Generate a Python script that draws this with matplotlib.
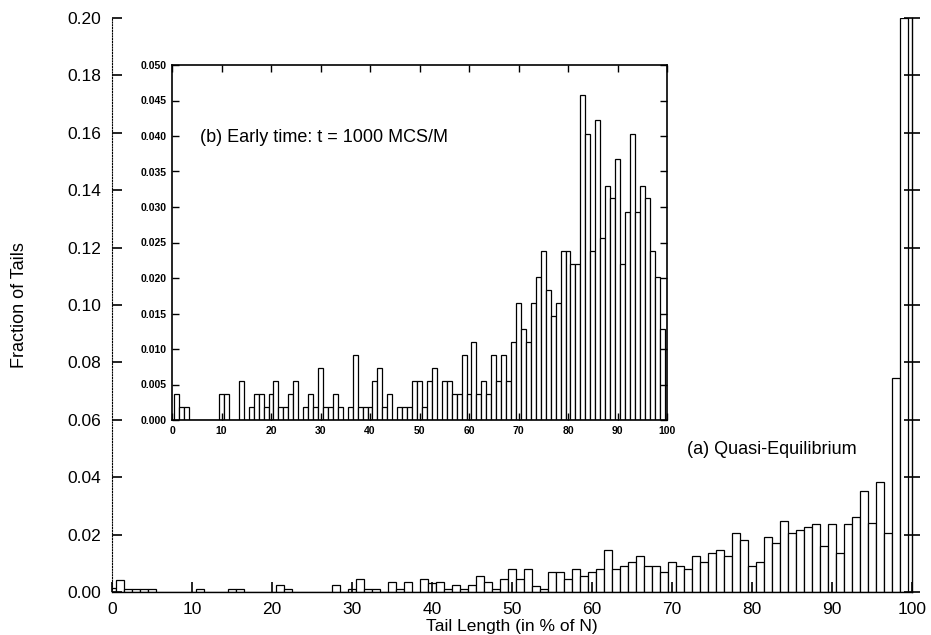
import matplotlib
matplotlib.use("Agg")
import matplotlib.pyplot as plt
import numpy as np

plt.rcParams['font.family'] = ['Liberation Sans', 'DejaVu Sans']

# main histogram (a) Quasi-Equilibrium, bins centred on 0..99
main_centers = list(range(0, 100))
main_values = [
    0.0013, 0.0043, 0.0012, 0.0012, 0.0012, 0.0012, 0.0, 0.0, 0.0, 0.0,
    0.0, 0.0012, 0.0, 0.0, 0.0, 0.0012, 0.0012, 0.0, 0.0, 0.0,
    0.0, 0.0023, 0.0012, 0.0, 0.0, 0.0, 0.0, 0.0, 0.0023, 0.0,
    0.0012, 0.0046, 0.0012, 0.0012, 0.0, 0.0035, 0.0012, 0.0035, 0.0, 0.0046,
    0.0030, 0.0035, 0.0012, 0.0023, 0.0012, 0.0023, 0.0057, 0.0035, 0.0012, 0.0046,
    0.0080, 0.0044, 0.0080, 0.0020, 0.0010, 0.0068, 0.0068, 0.0044, 0.0080, 0.0056,
    0.0068, 0.0080, 0.0146, 0.0080, 0.0091, 0.0103, 0.0124, 0.0091, 0.0091, 0.0068,
    0.0103, 0.0091, 0.0080, 0.0124, 0.0103, 0.0136, 0.0146, 0.0124, 0.0205, 0.0181,
    0.0091, 0.0103, 0.0192, 0.0171, 0.0249, 0.0204, 0.0215, 0.0227, 0.0237, 0.0159,
    0.0237, 0.0137, 0.0237, 0.0261, 0.0352, 0.0239, 0.0385, 0.0206, 0.0744, 0.2000,
]

# inset histogram (b) Early time, bins centred on 1..99
inset_centers = list(range(1, 100))
inset_values = [
    0.0037, 0.0018, 0.0018, 0.0, 0.0, 0.0, 0.0, 0.0, 0.0, 0.0037,
    0.0037, 0.0, 0.0, 0.0055, 0.0, 0.0018, 0.0037, 0.0037, 0.0018, 0.0037,
    0.0055, 0.0018, 0.0018, 0.0037, 0.0055, 0.0, 0.0018, 0.0037, 0.0018, 0.0073,
    0.0018, 0.0018, 0.0037, 0.0018, 0.0, 0.0018, 0.0092, 0.0018, 0.0018, 0.0018,
    0.0055, 0.0073, 0.0018, 0.0037, 0.0, 0.0018, 0.0018, 0.0018, 0.0055, 0.0055,
    0.0018, 0.0055, 0.0073, 0.0, 0.0055, 0.0055, 0.0037, 0.0037, 0.0092, 0.0037,
    0.0110, 0.0037, 0.0055, 0.0037, 0.0092, 0.0055, 0.0092, 0.0055, 0.0110, 0.0165,
    0.0128, 0.0110, 0.0165, 0.0202, 0.0238, 0.0183, 0.0147, 0.0165, 0.0238, 0.0238,
    0.0220, 0.0220, 0.0458, 0.0403, 0.0238, 0.0422, 0.0257, 0.0330, 0.0312, 0.0367,
    0.0220, 0.0293, 0.0403, 0.0293, 0.0330, 0.0312, 0.0238, 0.0202, 0.0128,
]

main_xticks = list(range(0, 101, 10))
main_yticks = [0.00, 0.02, 0.04, 0.06, 0.08, 0.10, 0.12, 0.14, 0.16, 0.18, 0.20]
inset_yticks = [0.000, 0.005, 0.010, 0.015, 0.020, 0.025, 0.030, 0.035, 0.040, 0.045, 0.050]

fig = plt.figure(figsize=(9.31, 6.35), dpi=100)

# ---- main axes
ax = fig.add_axes([112 / 931, 43 / 635, 800 / 931, 574 / 635])
ax.bar(main_centers, main_values, width=1.0, color='white', edgecolor='black',
       linewidth=0.9, align='center')
ax.set_xlim(0, 100)
ax.set_ylim(0, 0.20)
ax.spines['top'].set_visible(False)
ax.spines['left'].set_linestyle((0, (1, 1.5)))
ax.spines['left'].set_linewidth(0.8)
ax.spines['right'].set_linewidth(1.0)
ax.spines['bottom'].set_linewidth(1.0)
ax.set_xticks(main_xticks)
ax.set_yticks(main_yticks)
ax.set_yticklabels([f"{v:.2f}" for v in main_yticks])
ax.tick_params(axis='both', direction='in', length=7, width=1.2, labelsize=12.5)
ax.tick_params(axis='y', right=True, pad=8)
for t in ax.yaxis.get_major_ticks():
    t.tick2line.set_marker('_')
    t.tick2line.set_markersize(12)
ax.tick_params(axis='x', pad=7)
ax.set_xlabel('Tail Length (in % of N)', fontsize=12.5, labelpad=2)
ax.set_ylabel('Fraction of Tails', fontsize=13, labelpad=28)
ax.text(71.9, 0.0495, '(a) Quasi-Equilibrium', fontsize=13, va='center', ha='left')

# ---- inset axes
ins = fig.add_axes([172 / 931, 215 / 635, 495 / 931, 355 / 635])
ins.bar(inset_centers, inset_values, width=1.0, color='white', edgecolor='black',
        linewidth=0.9, align='center')
ins.set_xlim(0, 100)
ins.set_ylim(0, 0.050)
for s in ins.spines.values():
    s.set_linewidth(1.2)
ins.set_xticks(main_xticks)
ins.set_yticks(inset_yticks)
ins.set_yticklabels([f"{v:.3f}" for v in inset_yticks])
ins.tick_params(axis='both', direction='in', length=5, width=1.0,
                top=True, right=True, labelsize=7.5, pad=4)
for lab in ins.get_xticklabels() + ins.get_yticklabels():
    lab.set_fontweight('bold')
ins.text(5.6, 0.0398, '(b) Early time: t = 1000 MCS/M', fontsize=13,
         va='center', ha='left')

fig.savefig('out.png', dpi=100)
